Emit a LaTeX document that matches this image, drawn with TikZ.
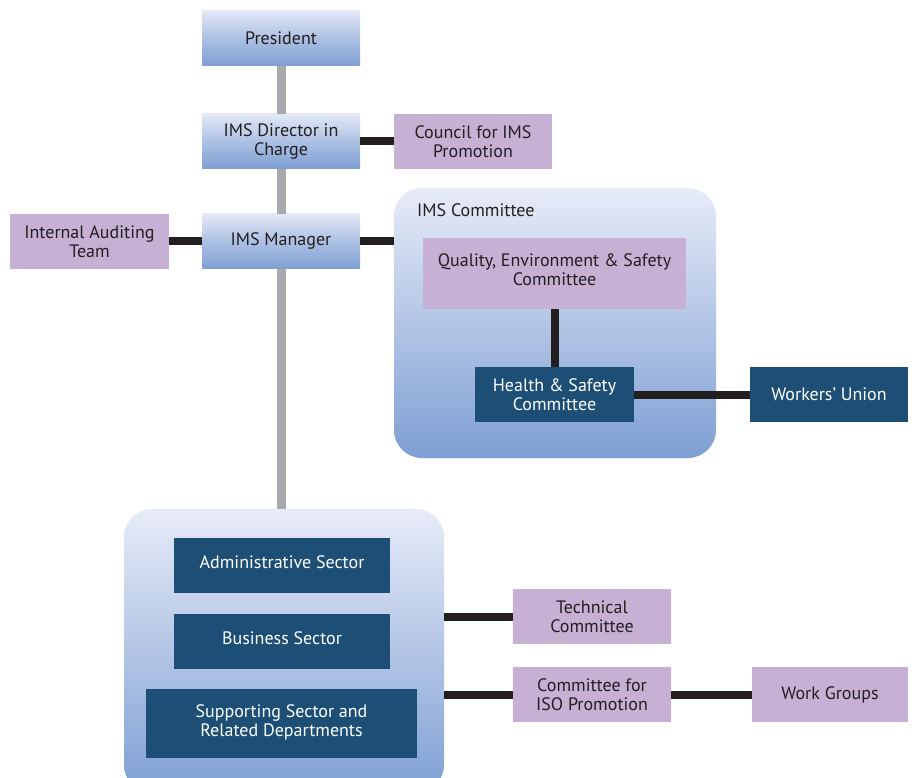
\documentclass[tikz,border=0pt]{standalone}
\usepackage{fontspec}
\setmainfont{PT Sans}
\usetikzlibrary{positioning}
\definecolor{lightb}{HTML}{E3E8F6}
\definecolor{midb}{HTML}{7E9FD3}
\definecolor{purp}{HTML}{C6B0D4}
\definecolor{darkb}{HTML}{1D4E76}
\definecolor{ink}{HTML}{231F20}
\definecolor{greyl}{HTML}{A7A9AC}
\tikzset{
  base/.style={inner sep=0pt, align=center, font=\fontsize{18}{19}\selectfont},
  bluebox/.style={base, top color=lightb, bottom color=midb, middle color=midb!55!lightb, shading angle=0, text=ink},
  purpbox/.style={base, fill=purp, text=ink},
  darkbox/.style={base, fill=darkb, text=white},
  container/.style={rounded corners=28pt, top color=lightb!85!white, bottom color=midb, inner sep=0pt},
  blink/.style={draw=ink, line width=8pt},
  glink/.style={draw=greyl, line width=9pt},
}
\begin{document}
\begin{tikzpicture}[x=1pt,y=-1pt]
\useasboundingbox (0,0) rectangle (916,778);
% containers
\node[container, minimum width=322pt, minimum height=270pt] (imsc) at (555,323) {};
\node[container, minimum width=320pt, minimum height=284pt] (bot) at (284,651) {};
\node[base, anchor=west, text=ink] (imsclabel) at (417,210) {IMS Committee};
% top chain
\node[bluebox, minimum width=158pt, minimum height=55pt] (pres) at (281,38.5) {President};
\node[bluebox, minimum width=158pt, minimum height=55pt] (dir) at (281,141.5) {IMS Director in\\Charge};
\node[purpbox, minimum width=158pt, minimum height=55pt] (council) at (473,141.5) {Council for IMS\\Promotion};
\node[bluebox, minimum width=158pt, minimum height=55pt] (mgr) at (281,241.5) {IMS Manager};
\node[purpbox, minimum width=159pt, minimum height=55pt] (audit) at (89.5,241.5) {Internal Auditing\\Team};
% IMS committee content
\node[purpbox, minimum width=263pt, minimum height=71pt] (qes) at (554.5,273.5) {Quality, Environment \& Safety\\Committee\\[-11pt]};
\node[darkbox, minimum width=159pt, minimum height=55pt] (hs) at (554.5,394.5) {Health \& Safety\\Committee};
\node[darkbox, minimum width=158pt, minimum height=55pt] (wu) at (829,394.5) {Workers’ Union};
% bottom content
\node[darkbox, minimum width=216pt, minimum height=55pt] (adm) at (282,565.5) {Administrative Sector\\[-12pt]};
\node[darkbox, minimum width=216pt, minimum height=55pt] (bus) at (282,641.5) {Business Sector\\[-12pt]};
\node[darkbox, minimum width=271pt, minimum height=69pt] (sup) at (281.5,723.5) {Supporting Sector and\\Related Departments\\[-13pt]};
\node[purpbox, minimum width=158pt, minimum height=55pt] (tech) at (592,616.5) {Technical\\Committee};
\node[purpbox, minimum width=158pt, minimum height=55pt] (iso) at (592,694.5) {Committee for\\ISO Promotion};
\node[purpbox, minimum width=156pt, minimum height=55pt] (wg) at (830,694.5) {Work Groups};
% grey trunk
\draw[glink] (pres.south) -- (dir.north);
\draw[glink] (dir.south) -- (mgr.north);
\draw[glink] (mgr.south) -- (mgr.south |- bot.north);
% black links
\draw[blink] (dir.east) -- (council.west);
\draw[blink] (mgr.west) -- (audit.east);
\draw[blink] (mgr.east) -- (mgr.east -| imsc.west);
\draw[blink] (qes.south) -- (hs.north);
\draw[blink] (hs.east) -- (wu.west);
\draw[blink] (tech.west -| bot.east) -- (tech.west);
\draw[blink] (iso.west -| bot.east) -- (iso.west);
\draw[blink] (iso.east) -- (wg.west);
\end{tikzpicture}
\end{document}
